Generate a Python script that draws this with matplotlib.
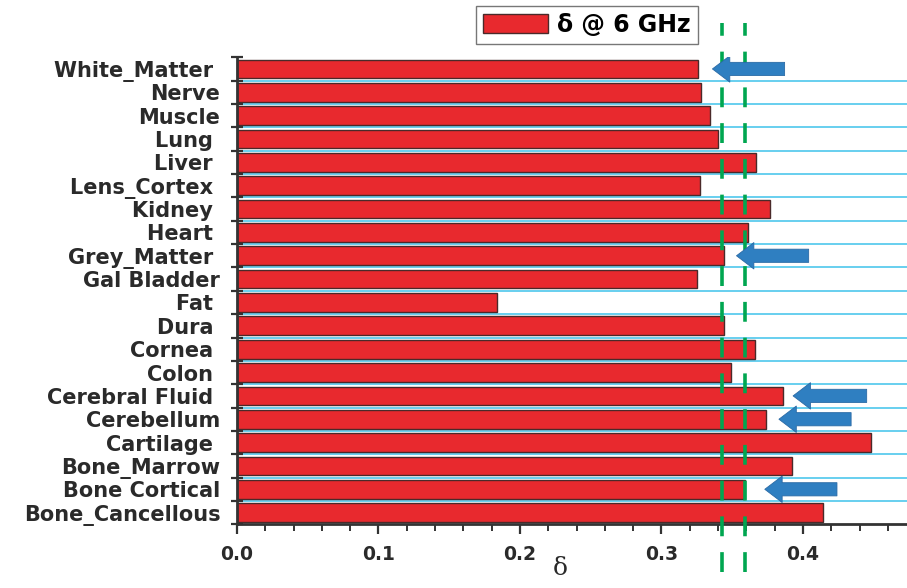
import matplotlib
matplotlib.use("Agg")
import matplotlib.pyplot as plt
from matplotlib.patches import FancyArrowPatch, Patch
from matplotlib.ticker import MultipleLocator, FixedLocator

# tissues, top to bottom (trailing spaces kept as in the original labels)
tissues = ["White_Matter ", "Nerve", "Muscle", "Lung ", "Liver ", "Lens_Cortex ",
           "Kidney ", "Heart ", "Grey_Matter ", "Gal Bladder", "Fat ", "Dura ",
           "Cornea ", "Colon ", "Cerebral Fluid ", "Cerebellum", "Cartilage ",
           "Bone_Marrow", "Bone Cortical", "Bone_Cancellous"]

# loss tangent delta at 6 GHz
delta_6ghz = [0.326, 0.328, 0.334, 0.340, 0.367, 0.327, 0.377, 0.361, 0.344, 0.325,
              0.184, 0.344, 0.366, 0.349, 0.386, 0.374, 0.448, 0.392, 0.359, 0.414]

# reference band (dashed green lines)
band_limits = [0.343, 0.359]

# highlighted tissues with arrows (index, tip x, tail x)
arrow_rows = [0, 8, 14, 15, 18]
arrow_tips = [0.336, 0.353, 0.393, 0.383, 0.373]
arrow_tails = [0.387, 0.404, 0.445, 0.434, 0.424]

fig = plt.figure(figsize=(9.07, 5.88), dpi=100)
ax = fig.add_axes([0.2613, 0.1083, 0.7387, 0.7943])

ypos = list(range(len(tissues)))

# light blue separators between bars
for i in range(len(tissues) - 1):
    ax.axhline(i + 0.5, color="#5ccbee", lw=1.3, zorder=1)

ax.barh(ypos, delta_6ghz, height=0.8, color="#e8292e", edgecolor="#4a2a2a",
        lw=1.0, zorder=2)

# dashed green band lines, running past the axes
for xv in band_limits:
    ax.plot([xv, xv], [-0.102, 1.073], transform=ax.get_xaxis_transform(),
            color="#00a650", lw=2.6, dashes=(5.5, 4.4), clip_on=False, zorder=4)

# blue arrows
for row, tip, tail in zip(arrow_rows, arrow_tips, arrow_tails):
    arr = FancyArrowPatch((tail, row), (tip, row),
                          arrowstyle="simple,head_length=1.25,head_width=1.9,tail_width=0.95",
                          mutation_scale=10, color="#2f7fc1", ec="#2a6aa5", lw=0.6,
                          shrinkA=0, shrinkB=0, zorder=5)
    ax.add_patch(arr)

ax.set_xlim(0, 0.4735)
ax.set_ylim(len(tissues) - 0.5, -0.5)

ax.set_yticks(ypos)
ax.set_yticklabels(tissues, fontsize=15, fontweight="bold", color="#2a2a2a")
ax.yaxis.set_minor_locator(FixedLocator([i - 0.5 for i in range(len(tissues) + 1)]))
ax.tick_params(axis="y", which="major", length=0, pad=12)
ax.tick_params(axis="y", which="minor", direction="inout", length=9, width=1.6,
               color="#333333")

ax.xaxis.set_major_locator(MultipleLocator(0.1))
ax.xaxis.set_minor_locator(MultipleLocator(0.02))
ax.tick_params(axis="x", which="major", direction="out", length=7, width=1.6,
               color="#333333", labelsize=13.5, labelcolor="#2a2a2a", pad=8)
ax.tick_params(axis="x", which="minor", direction="out", length=5, width=1.4,
               color="#333333")
for lab in ax.get_xticklabels():
    lab.set_fontweight("bold")
ax.xaxis.set_major_formatter(matplotlib.ticker.FormatStrFormatter("%.1f"))

ax.set_xlabel("δ", fontsize=18, family="DejaVu Serif", color="#2a2a2a")
ax.xaxis.set_label_coords(0.482, -0.07)

for side in ["top", "right"]:
    ax.spines[side].set_visible(False)
for side in ["left", "bottom"]:
    ax.spines[side].set_linewidth(2)
    ax.spines[side].set_color("#333333")

leg_handle = Patch(facecolor="#e8292e", edgecolor="#4a2a2a", lw=1.0)
fig.legend([leg_handle], ["δ @ 6 GHz"], loc="upper left",
           bbox_to_anchor=(476 / 907, 1 - 6 / 588), borderaxespad=0, fancybox=False,
           edgecolor="#777777", framealpha=1,
           prop={"weight": "bold", "size": 17}, handlelength=2.75, handleheight=0.85,
           borderpad=0.3, handletextpad=0.4)

fig.savefig("out.png", dpi=100)
